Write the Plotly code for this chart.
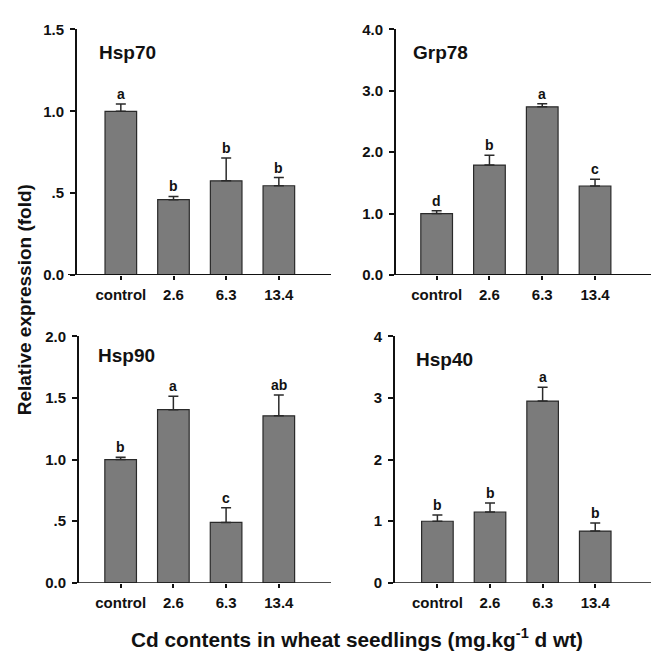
import plotly.graph_objects as go

categories = ["control", "2.6", "6.3", "13.4"]

hsp70_vals = [1.00, 0.46, 0.575, 0.545]
hsp70_errs = [0.045, 0.02, 0.14, 0.05]
hsp70_letters = ["a", "b", "b", "b"]

grp78_vals = [1.00, 1.79, 2.74, 1.45]
grp78_errs = [0.045, 0.16, 0.05, 0.11]
grp78_letters = ["d", "b", "a", "c"]

hsp90_vals = [1.00, 1.405, 0.49, 1.355]
hsp90_errs = [0.02, 0.11, 0.12, 0.17]
hsp90_letters = ["b", "a", "c", "ab"]

hsp40_vals = [1.00, 1.15, 2.95, 0.84]
hsp40_errs = [0.10, 0.145, 0.225, 0.13]
hsp40_letters = ["b", "b", "a", "b"]

hsp70_ticks = [0, 0.5, 1.0, 1.5]
hsp70_ticktext = ["0.0", ".5", "1.0", "1.5"]
grp78_ticks = [0, 1, 2, 3, 4]
grp78_ticktext = ["0.0", "1.0", "2.0", "3.0", "4.0"]
hsp90_ticks = [0, 0.5, 1.0, 1.5, 2.0]
hsp90_ticktext = ["0.0", ".5", "1.0", "1.5", "2.0"]
hsp40_ticks = [0, 1, 2, 3, 4]
hsp40_ticktext = ["0", "1", "2", "3", "4"]

W, H = 652, 661
FONT = "Liberation Sans, Arial, sans-serif"
BAR_FILL = "#7b7b7b"
EDGE = "#2a2a2a"

panels = [
    dict(name="Hsp70", vals=hsp70_vals, errs=hsp70_errs, letters=hsp70_letters,
         ticks=hsp70_ticks, ticktext=hsp70_ticktext, ymax=1.5,
         xl=77, xr=331, yb=273, yt=21, xr0=(-0.832, 3.99), ext=9, tpos=(97, 45)),
    dict(name="Grp78", vals=grp78_vals, errs=grp78_errs, letters=grp78_letters,
         ticks=grp78_ticks, ticktext=grp78_ticktext, ymax=4.0,
         xl=396, xr=651, yb=273, yt=21, xr0=(-0.77, 4.06), ext=2, tpos=(411, 45)),
    dict(name="Hsp90", vals=hsp90_vals, errs=hsp90_errs, letters=hsp90_letters,
         ticks=hsp90_ticks, ticktext=hsp90_ticktext, ymax=2.0,
         xl=79, xr=331, yb=589, yt=336, xr0=(-0.79, 3.99), ext=6, tpos=(96, 356)),
    dict(name="Hsp40", vals=hsp40_vals, errs=hsp40_errs, letters=hsp40_letters,
         ticks=hsp40_ticks, ticktext=hsp40_ticktext, ymax=4.0,
         xl=395, xr=651, yb=589, yt=336, xr0=(-0.806, 4.06), ext=5, tpos=(414, 360)),
]

fig = go.Figure()
layout = {}
annotations = []
shapes = []

for i, p in enumerate(panels):
    n = i + 1
    xa = "x" if n == 1 else f"x{n}"
    ya = "y" if n == 1 else f"y{n}"
    xkey = "xaxis" if n == 1 else f"xaxis{n}"
    ykey = "yaxis" if n == 1 else f"yaxis{n}"

    fig.add_trace(go.Bar(
        x=categories, y=p["vals"], xaxis=xa, yaxis=ya, width=0.6,
        marker=dict(color=BAR_FILL, line=dict(color=EDGE, width=1.2)),
        error_y=dict(type="data", array=p["errs"], arrayminus=[0] * 4,
                     symmetric=False, color=EDGE, thickness=1.5, width=5),
        showlegend=False, hoverinfo="skip",
    ))

    layout[xkey] = dict(
        domain=[p["xl"] / W, p["xr"] / W], anchor=ya, type="category",
        range=list(p["xr0"]), showline=False, zeroline=False, showgrid=False,
        ticks="outside", ticklen=4, tickwidth=1.5, tickcolor="#111",
        tickfont=dict(family=FONT, size=15, color="#111", weight="bold"),
        ticklabelstandoff=2, fixedrange=True,
    )
    layout[ykey] = dict(
        domain=[(H - p["yb"]) / H, (H - p["yt"]) / H], anchor=xa,
        range=[0, p["ymax"]], tickvals=p["ticks"], ticktext=p["ticktext"],
        showline=True, linecolor="#111", linewidth=1.8, zeroline=False,
        showgrid=False, ticks="outside", ticklen=5, tickwidth=1.5, tickcolor="#111",
        tickfont=dict(family=FONT, size=15, color="#111", weight="bold"),
        ticklabelstandoff=3, fixedrange=True,
    )

    span = p["xr"] - p["xl"]
    shapes.append(dict(type="line", xref=f"{xa} domain", yref=ya,
                       x0=-p["ext"] / span, x1=1, y0=0, y1=0,
                       line=dict(color="#111", width=1.8)))

    annotations.append(dict(text=f"<b>{p['name']}</b>", xref="paper", yref="paper",
                            x=p["tpos"][0] / W, y=(H - p["tpos"][1]) / H,
                            xanchor="left", yanchor="middle", showarrow=False,
                            font=dict(family=FONT, size=19, color="#111")))

    for k, (v, e, l) in enumerate(zip(p["vals"], p["errs"], p["letters"])):
        annotations.append(dict(text=f"<b>{l}</b>", xref=xa, yref=ya, x=k, y=v + e,
                                xanchor="center", yanchor="bottom", yshift=0,
                                showarrow=False,
                                font=dict(family=FONT, size=14, color="#111")))

annotations.append(dict(text="<b>Relative expression (fold)</b>", xref="paper", yref="paper",
                        x=24 / W, y=(H - 299) / H, xanchor="center", yanchor="middle",
                        textangle=-90, showarrow=False,
                        font=dict(family=FONT, size=19, color="#111")))
annotations.append(dict(text="<b>Cd contents in wheat seedlings (mg.kg<sup>-1</sup> d wt)</b>",
                        xref="paper", yref="paper",
                        x=357 / W, y=(H - 646) / H, xanchor="center", yanchor="middle",
                        showarrow=False,
                        font=dict(family=FONT, size=20.8, color="#111")))

fig.update_layout(
    width=W, height=H, margin=dict(l=0, r=0, t=0, b=0),
    paper_bgcolor="white", plot_bgcolor="white",
    annotations=annotations, shapes=shapes, bargap=0.4,
    **layout,
)

css_fix = (
    "var s=document.createElement('style');"
    "s.textContent='html,body{margin:0!important;padding:0!important;overflow:hidden;"
    "width:652px;height:661px;}';"
    "document.head.appendChild(s);"
)
fig.write_html("out.html", config={"displayModeBar": False}, post_script=css_fix)
